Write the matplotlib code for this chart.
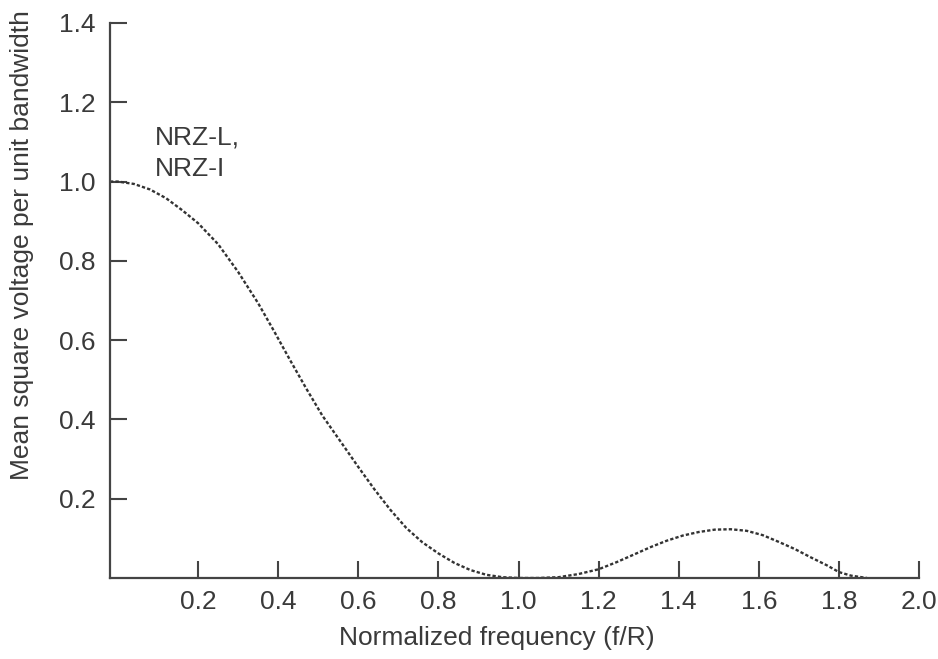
import matplotlib
matplotlib.use("Agg")
import matplotlib.pyplot as plt

# values
freq = [-0.02, 0.0, 0.04, 0.08, 0.12, 0.16, 0.20, 0.25, 0.30, 0.35, 0.39, 0.43,
        0.47, 0.51, 0.56, 0.60, 0.64, 0.68, 0.72, 0.76, 0.80, 0.84, 0.88, 0.92,
        0.96, 1.0, 1.05, 1.10, 1.15, 1.20, 1.245, 1.29, 1.33, 1.37, 1.41, 1.45,
        1.49, 1.53, 1.57, 1.61, 1.65, 1.69, 1.73, 1.77, 1.80, 1.83, 1.87]
power = [1.0, 1.0, 0.994, 0.980, 0.958, 0.928, 0.895, 0.842, 0.772, 0.693, 0.622, 0.549,
         0.478, 0.410, 0.338, 0.280, 0.224, 0.172, 0.126, 0.090, 0.062, 0.038, 0.020, 0.008,
         0.002, 0.0, 0.0, 0.002, 0.010, 0.022, 0.040, 0.060, 0.078, 0.094, 0.107, 0.116,
         0.122, 0.123, 0.119, 0.108, 0.091, 0.073, 0.052, 0.032, 0.015, 0.006, 0.0]

xticks = [0.2, 0.4, 0.6, 0.8, 1.0, 1.2, 1.4, 1.6, 1.8, 2.0]
yticks = [0.2, 0.4, 0.6, 0.8, 1.0, 1.2, 1.4]

plt.rcParams['font.family'] = ['Liberation Sans', 'DejaVu Sans']
txtcol = '#3a3a3a'

fig = plt.figure(figsize=(9.38, 6.59), dpi=100)
ax = fig.add_axes([110/938, 1 - 578/659, 809/938, 555/659])

ax.plot(freq, power, color='#333333', lw=1.7, linestyle=(0, (1.4, 0.9)))

ax.set_xlim(-0.02, 2.0)
ax.set_ylim(0, 1.4)
ax.set_xticks(xticks)
ax.set_xticklabels(["%.1f" % t for t in xticks])
ax.set_yticks(yticks)
ax.set_yticklabels(["%.1f" % t for t in yticks])

for s in ['top', 'right']:
    ax.spines[s].set_visible(False)
for s in ['left', 'bottom']:
    ax.spines[s].set_color('#444444')
    ax.spines[s].set_linewidth(1.6)

ax.tick_params(axis='both', direction='in', length=12, width=1.5, color='#444444',
               labelsize=19, labelcolor=txtcol)
ax.tick_params(axis='x', pad=8.5)
ax.tick_params(axis='y', pad=10.5)

ax.text(0.0925, 1.142, "NRZ-L,\nNRZ-I", fontsize=19, color=txtcol, va='top', ha='left',
        linespacing=1.4)

fig.text(497/938, 1 - 638/659, "Normalized frequency (f/R)", fontsize=19, color=txtcol,
         ha='center', va='center')
fig.text(22/938, 1 - 245/659, "Mean square voltage per unit bandwidth", fontsize=19,
         color=txtcol, ha='center', va='center', rotation=90)

fig.savefig("out.png", dpi=100)
